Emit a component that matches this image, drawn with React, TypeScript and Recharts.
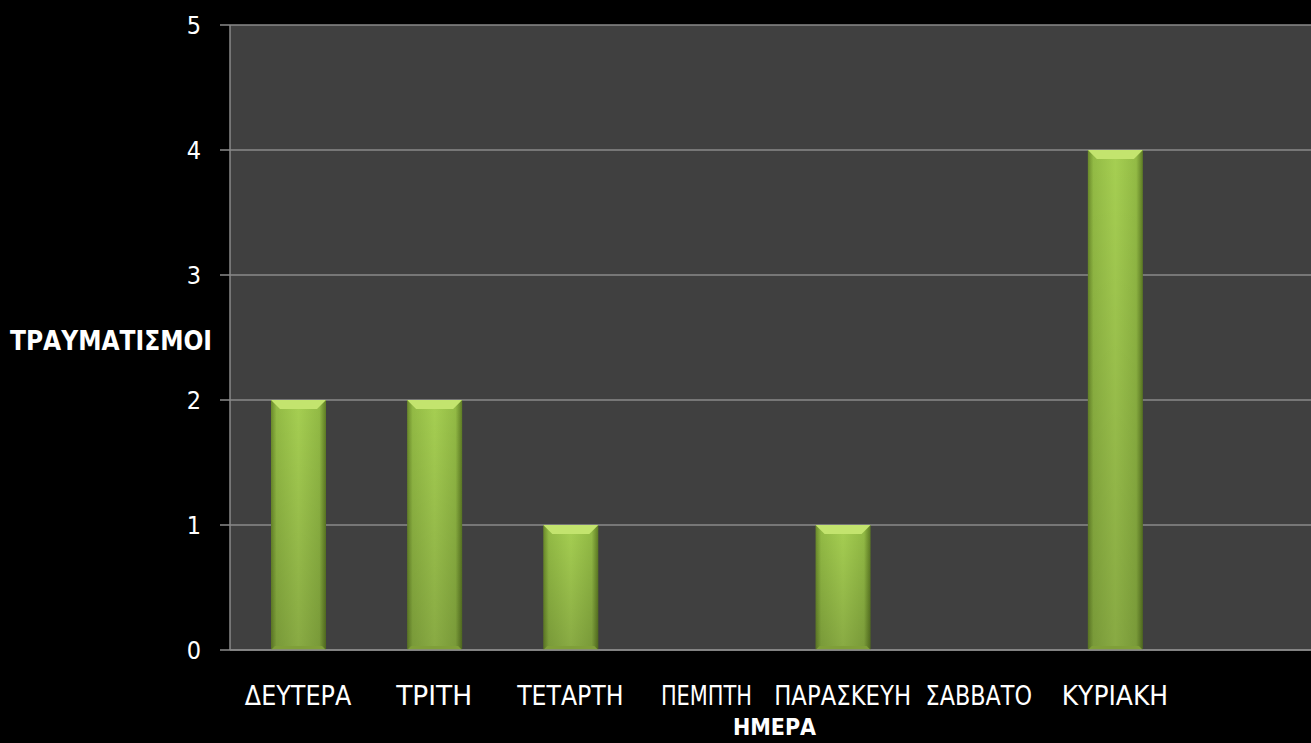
import { BarChart, Bar, XAxis, YAxis, CartesianGrid, Label } from "recharts";

const DAYS = ["ΔΕΥΤΕΡΑ", "ΤΡΙΤΗ", "ΤΕΤΑΡΤΗ", "ΠΕΜΠΤΗ", "ΠΑΡΑΣΚΕΥΗ", "ΣΑΒΒΑΤΟ", "ΚΥΡΙΑΚΗ"];
const INJURIES = [2, 2, 1, 0, 1, 0, 4];
const Y_TICKS = [0, 1, 2, 3, 4, 5];

const data = DAYS.map((day, i) => ({ day, value: INJURIES[i] }));

const FONT = "'DejaVu Sans Condensed', 'DejaVu Sans', sans-serif";

function GreenBar(props: any) {
  const { x, y, width, height } = props;
  if (!height || height <= 0) return null;
  const bevel = 9;
  return (
    <g>
      <rect x={x} y={y} width={width} height={height} fill="url(#barH)" />
      <rect x={x} y={y} width={width} height={height} fill="url(#barV)" />
      <polygon
        points={`${x},${y} ${x + width},${y} ${x + width - bevel},${y + bevel} ${x + bevel},${y + bevel}`}
        fill="#c3e46e"
      />
      <polygon
        points={`${x},${y + height} ${x + width},${y + height} ${x + width - 4},${y + height - 4} ${x + 4},${y + height - 4}`}
        fill="#7f9f38"
      />
    </g>
  );
}

function XTick({ x, y, payload }: any) {
  return (
    <text x={x} y={y + 47} textAnchor="middle" fill="#ffffff" fontSize={26} fontFamily={FONT} textLength={payload.value.length * 15.2} lengthAdjust="spacingAndGlyphs">
      {payload.value}
    </text>
  );
}

function YTick({ x, y, payload }: any) {
  return (
    <text x={x - 17} y={y + 9} textAnchor="end" fill="#ffffff" fontSize={25} fontFamily={FONT}>
      {payload.value}
    </text>
  );
}

export default function App() {
  return (
    <div style={{ position: "absolute", left: 0, top: 0, width: 1311, height: 743, background: "#000000", overflow: "hidden" }}>
      <BarChart width={1311} height={743} data={data} margin={{ top: 25, right: 0, bottom: 0, left: 0 }} barSize={55}>
        <defs>
          <linearGradient id="barH" x1="0" y1="0" x2="1" y2="0">
            <stop offset="0%" stopColor="#6a8a2a" />
            <stop offset="10%" stopColor="#93bb45" />
            <stop offset="50%" stopColor="#a6cf52" />
            <stop offset="88%" stopColor="#93bb45" />
            <stop offset="100%" stopColor="#5e7c24" />
          </linearGradient>
          <linearGradient id="barV" x1="0" y1="0" x2="0" y2="1">
            <stop offset="0%" stopColor="#000000" stopOpacity={0} />
            <stop offset="100%" stopColor="#000000" stopOpacity={0.18} />
          </linearGradient>
        </defs>
        <CartesianGrid vertical={false} fill="#404040" stroke="#8a8a8a" strokeWidth={1.5} />
        <XAxis
          dataKey="day"
          height={93}
          padding={{ left: 0, right: 128 }}
          tickLine={false}
          axisLine={{ stroke: "#8a8a8a", strokeWidth: 1.5 }}
          tick={<XTick />}
          interval={0}
        >
          <Label
            content={({ viewBox }: any) => (
              <text
                x={viewBox.x + viewBox.width / 2 + 4}
                y={viewBox.y + 85}
                textAnchor="middle"
                fill="#ffffff"
                fontSize={23}
                fontWeight="bold"
                fontFamily={FONT}
              >
                ΗΜΕΡΑ
              </text>
            )}
          />
        </XAxis>
        <YAxis
          width={230}
          domain={[0, 5]}
          ticks={Y_TICKS}
          tickSize={10}
          tickLine={{ stroke: "#8a8a8a", strokeWidth: 1.5 }}
          axisLine={{ stroke: "#8a8a8a", strokeWidth: 1.5 }}
          tick={<YTick />}
        >
          <Label
            content={({ viewBox }: any) => (
              <text
                x={10}
                y={viewBox.y + viewBox.height / 2 + 12}
                textAnchor="start"
                fill="#ffffff"
                fontSize={26}
                fontWeight="bold"
                fontFamily={FONT}
                textLength={202}
                lengthAdjust="spacingAndGlyphs"
              >
                ΤΡΑΥΜΑΤΙΣΜΟΙ
              </text>
            )}
          />
        </YAxis>
        <Bar dataKey="value" shape={<GreenBar />} isAnimationActive={false} />
      </BarChart>
    </div>
  );
}
